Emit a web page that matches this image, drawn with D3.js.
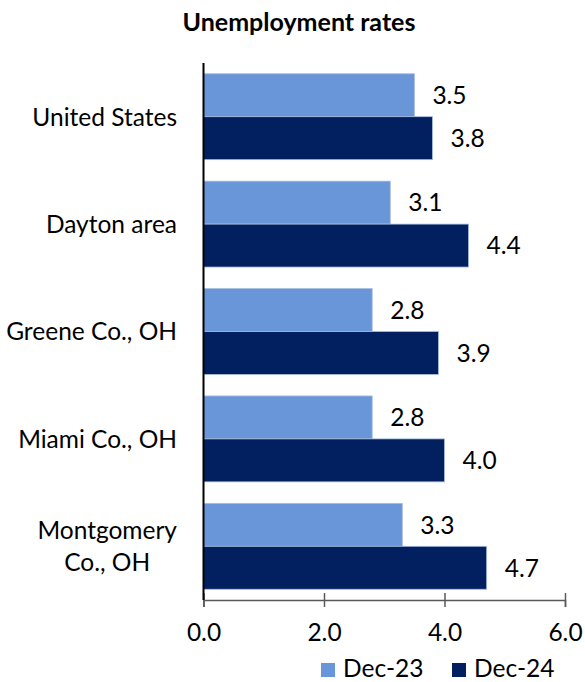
<!DOCTYPE html>
<html>
<head>
<meta charset="utf-8">
<script src="https://cdn.jsdelivr.net/npm/d3@7"></script>
<style>
  html, body { margin: 0; padding: 0; background: #ffffff; }
  svg { display: block; }
  text { font-family: Lato, "Open Sans", sans-serif; fill: #000000; }
</style>
</head>
<body>
<svg id="chart" width="585" height="682"></svg>
<script>
// Unemployment rates, December 2023 vs December 2024 (percent)
const categories = ["United States", "Dayton area", "Greene Co., OH", "Miami Co., OH", "Montgomery\nCo., OH"];
const seriesNames = ["Dec-23", "Dec-24"];
const dec23 = [3.5, 3.1, 2.8, 2.8, 3.3];
const dec24 = [3.8, 4.4, 3.9, 4.0, 4.7];
const xTicks = [0, 2, 4, 6];
const colors = ["#6996d8", "#022060"];

const svg = d3.select("#chart");
const plot = { left: 203.5, right: 565, top: 63, bottom: 600 };
const FONT = 24.5;
const TITLE_FONT = 25;

const x = d3.scaleLinear().domain([0, 6]).range([plot.left, plot.right]);
const y = d3.scaleBand().domain(categories).range([plot.top, plot.bottom])
  .paddingInner(0.2).paddingOuter(0.1);
const ySub = d3.scaleBand().domain(seriesNames).range([0, y.bandwidth()]);
const color = d3.scaleOrdinal().domain(seriesNames).range(colors);

const rows = categories.map((c, i) => ({
  category: c,
  values: [
    { series: seriesNames[0], value: dec23[i] },
    { series: seriesNames[1], value: dec24[i] }
  ]
}));

// Title
svg.append("text")
  .attr("x", 299).attr("y", 31)
  .attr("text-anchor", "middle")
  .style("font-weight", "bold")
  .style("font-size", TITLE_FONT + "px")
  .text("Unemployment rates");

// Bars
const groups = svg.append("g").selectAll("g")
  .data(rows).join("g")
  .attr("transform", d => `translate(0,${y(d.category)})`);

groups.selectAll("rect")
  .data(d => d.values).join("rect")
  .attr("x", x(0))
  .attr("y", d => ySub(d.series))
  .attr("width", d => x(d.value) - x(0))
  .attr("height", ySub.bandwidth())
  .attr("fill", d => color(d.series))
  .attr("stroke", "#a9bde0")
  .attr("stroke-width", 0.8);

// Value labels
groups.selectAll("text.value")
  .data(d => d.values).join("text")
  .attr("class", "value")
  .attr("x", d => x(d.value) + 18)
  .attr("y", d => ySub(d.series) + ySub.bandwidth() / 2)
  .attr("dy", "0.36em")
  .style("font-size", FONT + "px")
  .text(d => d3.format(".1f")(d.value));

// X axis with crossing ticks
const xAxis = svg.append("g")
  .attr("transform", `translate(0,${plot.bottom})`)
  .call(d3.axisBottom(x).tickValues(xTicks).tickFormat(d3.format(".1f")).tickSizeOuter(0).tickSize(7));
xAxis.select(".domain").attr("stroke", "#595959").attr("stroke-width", 1.5);
xAxis.selectAll(".tick line").attr("y1", -7).attr("y2", 7).attr("stroke", "#595959").attr("stroke-width", 1.5);
xAxis.selectAll(".tick text")
  .attr("y", 24)
  .style("font-size", FONT + "px")
  .style("font-family", "Lato, sans-serif")
  .attr("fill", "#000");

// Y axis line
svg.append("line")
  .attr("x1", plot.left).attr("x2", plot.left)
  .attr("y1", plot.top).attr("y2", plot.bottom)
  .attr("stroke", "#000").attr("stroke-width", 2);

// Category labels (multi-line labels are centred on their widest line)
const labelRight = 177;
const catG = svg.append("g");
categories.forEach(c => {
  const lines = c.split("\n");
  const t = catG.append("text")
    .style("font-size", FONT + "px")
    .attr("text-anchor", "middle");
  const lh = 32;
  const cy = y(c) + y.bandwidth() / 2;
  lines.forEach((ln, j) => {
    t.append("tspan")
      .attr("y", cy + (j - (lines.length - 1) / 2) * lh)
      .attr("dy", "0.36em")
      .text(ln);
  });
  let maxW = 0;
  t.selectAll("tspan").each(function () { maxW = Math.max(maxW, this.getComputedTextLength()); });
  t.selectAll("tspan").attr("x", labelRight - maxW / 2);
});

// Legend
const legendItems = [{ name: seriesNames[0], x: 321 }, { name: seriesNames[1], x: 452 }];
const leg = svg.append("g");
legendItems.forEach(it => {
  leg.append("rect")
    .attr("x", it.x).attr("y", 663).attr("width", 14).attr("height", 14)
    .attr("fill", color(it.name));
  leg.append("text")
    .attr("x", it.x + 22).attr("y", 677)
    .style("font-size", FONT + "px")
    .text(it.name);
});
</script>
</body>
</html>
